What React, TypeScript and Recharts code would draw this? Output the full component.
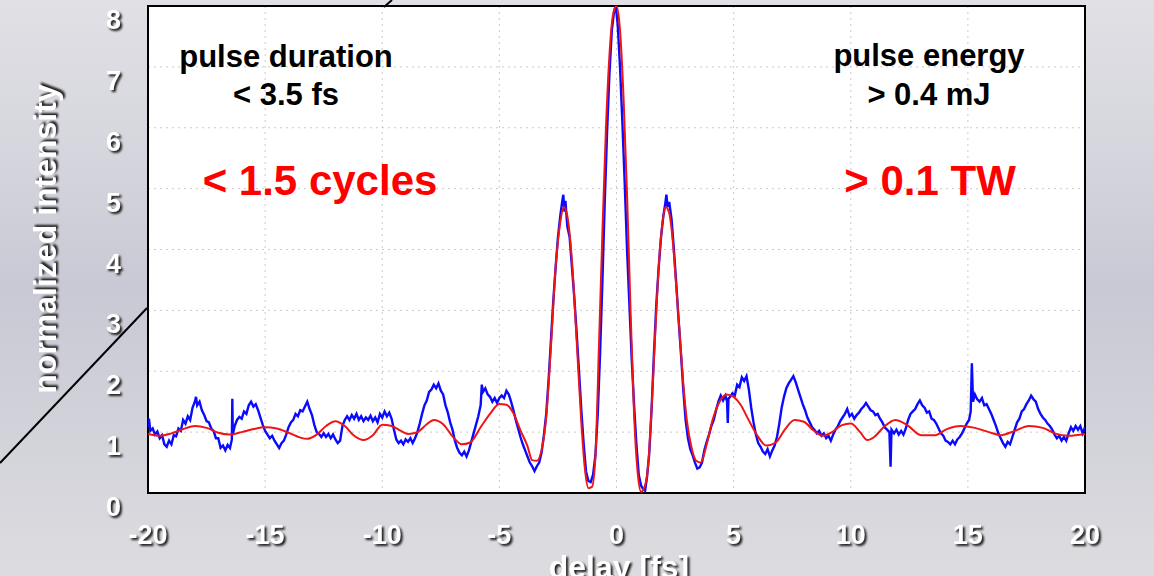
import React from "react";
import {
  LineChart,
  Line,
  XAxis,
  YAxis,
  CartesianGrid,
  ReferenceArea,
} from "recharts";

// delay [fs] vs normalized intensity, measured autocorrelation (blue)
const measured: [number, number][] = [
  [-20.0, 1.08], [-19.96, 1.22], [-19.9, 1.02], [-19.8, 1.06], [-19.7, 0.96], [-19.6, 1.01],
  [-19.5, 0.9], [-19.4, 0.95], [-19.3, 0.8], [-19.2, 0.76], [-19.1, 0.86], [-19.0, 0.8],
  [-18.9, 0.95], [-18.8, 0.93], [-18.7, 1.06], [-18.6, 1.02], [-18.5, 1.2], [-18.4, 1.14],
  [-18.3, 1.26], [-18.2, 1.2], [-18.1, 1.4], [-18.0, 1.5], [-17.95, 1.58], [-17.9, 1.44],
  [-17.8, 1.5], [-17.7, 1.36], [-17.6, 1.28], [-17.5, 1.18], [-17.4, 1.16], [-17.3, 1.06],
  [-17.2, 1.02], [-17.1, 0.9], [-17.0, 0.9], [-16.9, 0.74], [-16.8, 0.78], [-16.7, 0.7],
  [-16.6, 0.79], [-16.5, 0.74], [-16.42, 0.88], [-16.4, 1.55], [-16.38, 0.96], [-16.3, 1.1],
  [-16.2, 1.2], [-16.1, 1.25], [-16.0, 1.22], [-15.9, 1.34], [-15.8, 1.3], [-15.7, 1.44],
  [-15.6, 1.5], [-15.5, 1.42], [-15.4, 1.46], [-15.3, 1.36], [-15.2, 1.24], [-15.1, 1.12],
  [-15.0, 1.02], [-14.9, 0.96], [-14.8, 0.9], [-14.7, 0.94], [-14.6, 0.86], [-14.5, 0.8],
  [-14.4, 0.74], [-14.3, 0.82], [-14.2, 0.86], [-14.1, 0.96], [-14.0, 1.08], [-13.9, 1.16],
  [-13.8, 1.2], [-13.7, 1.3], [-13.6, 1.26], [-13.5, 1.36], [-13.4, 1.34], [-13.3, 1.42],
  [-13.2, 1.5], [-13.1, 1.38], [-13.0, 1.28], [-12.9, 1.12], [-12.8, 1.0], [-12.7, 0.97],
  [-12.6, 0.92], [-12.5, 0.98], [-12.4, 0.92], [-12.3, 0.97], [-12.2, 0.9], [-12.1, 0.96],
  [-12.0, 0.88], [-11.9, 0.82], [-11.8, 0.86], [-11.7, 1.1], [-11.6, 1.2], [-11.5, 1.26],
  [-11.4, 1.2], [-11.3, 1.28], [-11.2, 1.22], [-11.1, 1.3], [-11.0, 1.2], [-10.9, 1.26],
  [-10.8, 1.18], [-10.7, 1.24], [-10.6, 1.2], [-10.5, 1.27], [-10.4, 1.18], [-10.3, 1.24],
  [-10.2, 1.16], [-10.1, 1.3], [-10.0, 1.24], [-9.9, 1.34], [-9.8, 1.26], [-9.7, 1.32],
  [-9.6, 1.22], [-9.5, 1.04], [-9.4, 0.88], [-9.3, 0.82], [-9.2, 0.86], [-9.1, 0.8],
  [-9.0, 0.88], [-8.9, 0.84], [-8.8, 0.9], [-8.7, 0.82], [-8.6, 0.9], [-8.5, 1.0],
  [-8.4, 1.14], [-8.3, 1.3], [-8.2, 1.44], [-8.1, 1.52], [-8.0, 1.66], [-7.9, 1.7],
  [-7.8, 1.78], [-7.7, 1.72], [-7.6, 1.8], [-7.5, 1.68], [-7.4, 1.62], [-7.3, 1.44],
  [-7.2, 1.32], [-7.1, 1.16], [-7.0, 1.04], [-6.9, 0.86], [-6.8, 0.74], [-6.7, 0.66],
  [-6.6, 0.62], [-6.5, 0.68], [-6.4, 0.6], [-6.3, 0.7], [-6.2, 0.84], [-6.1, 0.98],
  [-6.0, 1.12], [-5.9, 1.26], [-5.8, 1.44], [-5.75, 1.78], [-5.7, 1.66], [-5.6, 1.72],
  [-5.5, 1.62], [-5.4, 1.58], [-5.3, 1.5], [-5.2, 1.56], [-5.1, 1.48], [-5.0, 1.56],
  [-4.9, 1.6], [-4.8, 1.56], [-4.7, 1.68], [-4.6, 1.62], [-4.5, 1.5], [-4.4, 1.36],
  [-4.3, 1.2], [-4.2, 1.06], [-4.1, 0.92], [-4.0, 0.8], [-3.9, 0.7], [-3.8, 0.6],
  [-3.7, 0.5], [-3.6, 0.44], [-3.5, 0.36], [-3.4, 0.44], [-3.3, 0.5], [-3.2, 0.66],
  [-3.1, 0.95], [-3.0, 1.3], [-2.9, 1.85], [-2.8, 2.5], [-2.7, 3.15], [-2.6, 3.7],
  [-2.5, 4.2], [-2.4, 4.55], [-2.32, 4.78], [-2.27, 4.9], [-2.22, 4.62], [-2.18, 4.8],
  [-2.1, 4.38], [-2.0, 4.2], [-1.9, 3.7], [-1.8, 3.2], [-1.7, 2.62], [-1.6, 2.0],
  [-1.5, 1.35], [-1.4, 0.8], [-1.3, 0.35], [-1.2, 0.2], [-1.1, 0.18], [-1.0, 0.3],
  [-0.9, 0.62], [-0.8, 1.3], [-0.7, 2.3], [-0.6, 3.5], [-0.5, 4.8], [-0.4, 5.95],
  [-0.3, 6.9], [-0.2, 7.6], [-0.1, 7.92], [-0.03, 8.0], [0.05, 7.7], [0.15, 7.0],
  [0.25, 6.1], [0.35, 5.1], [0.45, 4.0], [0.55, 3.1], [0.65, 2.2], [0.75, 1.45],
  [0.85, 0.8], [0.95, 0.3], [1.05, 0.12], [1.15, 0.06], [1.22, 0.04], [1.3, 0.25],
  [1.4, 0.66], [1.5, 1.4], [1.6, 2.3], [1.7, 3.1], [1.8, 3.7], [1.9, 4.2],
  [2.0, 4.55], [2.08, 4.75], [2.13, 4.9], [2.18, 4.7], [2.25, 4.78], [2.35, 4.5],
  [2.45, 4.0], [2.55, 3.45], [2.65, 2.85], [2.75, 2.3], [2.85, 1.7], [2.95, 1.2],
  [3.05, 0.9], [3.15, 0.72], [3.25, 0.62], [3.35, 0.5], [3.45, 0.4], [3.55, 0.42],
  [3.65, 0.5], [3.75, 0.7], [3.85, 0.84], [3.95, 0.96], [4.05, 1.1], [4.15, 1.2],
  [4.25, 1.36], [4.35, 1.5], [4.45, 1.6], [4.55, 1.52], [4.65, 1.6], [4.72, 1.5],
  [4.75, 1.15], [4.78, 1.55], [4.85, 1.58], [4.95, 1.64], [5.05, 1.6], [5.15, 1.78],
  [5.25, 1.74], [5.35, 1.9], [5.45, 1.84], [5.55, 1.92], [5.65, 1.7], [5.75, 1.4],
  [5.85, 1.16], [5.95, 0.96], [6.05, 0.82], [6.15, 0.76], [6.25, 0.68], [6.35, 0.64],
  [6.45, 0.72], [6.55, 0.6], [6.65, 0.7], [6.75, 0.78], [6.85, 0.92], [6.95, 1.14],
  [7.05, 1.4], [7.15, 1.58], [7.25, 1.72], [7.35, 1.8], [7.45, 1.86], [7.55, 1.92],
  [7.65, 1.82], [7.75, 1.7], [7.85, 1.58], [7.95, 1.46], [8.05, 1.36], [8.15, 1.24],
  [8.25, 1.16], [8.35, 1.08], [8.45, 1.04], [8.55, 0.98], [8.65, 1.02], [8.75, 0.94],
  [8.85, 0.98], [8.95, 0.9], [9.05, 0.94], [9.15, 0.86], [9.25, 0.96], [9.35, 1.04],
  [9.45, 1.1], [9.55, 1.18], [9.65, 1.24], [9.75, 1.3], [9.85, 1.38], [9.95, 1.26],
  [10.05, 1.3], [10.15, 1.22], [10.25, 1.28], [10.35, 1.32], [10.45, 1.38], [10.55, 1.42],
  [10.65, 1.48], [10.75, 1.42], [10.85, 1.36], [10.95, 1.34], [11.05, 1.28], [11.15, 1.3],
  [11.25, 1.22], [11.35, 1.16], [11.45, 1.08], [11.55, 1.04], [11.65, 1.0], [11.7, 0.43],
  [11.74, 1.04], [11.85, 0.98], [11.95, 1.04], [12.05, 0.96], [12.15, 1.02], [12.25, 0.96],
  [12.35, 1.06], [12.45, 1.2], [12.55, 1.3], [12.65, 1.34], [12.75, 1.38], [12.85, 1.46],
  [12.95, 1.52], [13.05, 1.44], [13.15, 1.4], [13.25, 1.32], [13.35, 1.34], [13.45, 1.22],
  [13.55, 1.2], [13.65, 1.14], [13.75, 1.06], [13.85, 0.98], [13.95, 0.94], [14.05, 0.86],
  [14.15, 0.84], [14.25, 0.8], [14.35, 0.86], [14.45, 0.8], [14.55, 0.88], [14.65, 0.92],
  [14.75, 0.98], [14.85, 1.06], [14.95, 1.14], [15.05, 1.2], [15.12, 1.34], [15.17, 2.13],
  [15.22, 1.5], [15.3, 1.62], [15.4, 1.54], [15.5, 1.5], [15.6, 1.56], [15.7, 1.44],
  [15.8, 1.46], [15.9, 1.38], [16.0, 1.3], [16.1, 1.2], [16.2, 1.1], [16.3, 0.98],
  [16.4, 0.9], [16.5, 0.82], [16.6, 0.76], [16.7, 0.84], [16.8, 0.8], [16.9, 0.92],
  [17.0, 1.04], [17.1, 1.16], [17.2, 1.22], [17.3, 1.34], [17.4, 1.38], [17.5, 1.46],
  [17.6, 1.52], [17.7, 1.6], [17.8, 1.54], [17.9, 1.5], [18.0, 1.38], [18.1, 1.3],
  [18.2, 1.24], [18.3, 1.2], [18.4, 1.14], [18.5, 1.1], [18.6, 1.04], [18.7, 0.96],
  [18.8, 0.9], [18.9, 0.94], [19.0, 0.86], [19.1, 0.92], [19.2, 0.86], [19.3, 0.98],
  [19.4, 1.08], [19.5, 1.02], [19.6, 1.1], [19.7, 1.04], [19.8, 1.1], [19.9, 0.98],
  [20.0, 1.08],
];

// fitted autocorrelation (red)
const fit: [number, number][] = [
  [-20, 0.97], [-19.5, 0.94], [-19, 0.98], [-18.5, 1.05], [-18, 1.1], [-17.5, 1.07],
  [-17, 0.99], [-16.5, 0.96], [-16, 1.0], [-15.5, 1.05], [-15, 1.08], [-14.5, 1.06],
  [-14, 0.99], [-13.5, 0.91], [-13.2, 0.89], [-12.8, 0.96], [-12.4, 1.1], [-12, 1.18],
  [-11.6, 1.1], [-11.2, 0.94], [-10.8, 0.87], [-10.4, 0.95], [-10, 1.12], [-9.6, 1.1],
  [-9.2, 1.02], [-8.9, 0.97], [-8.5, 1.0], [-8.1, 1.13], [-7.8, 1.2], [-7.4, 1.13],
  [-7, 0.93], [-6.6, 0.8], [-6.25, 0.83], [-5.8, 1.08], [-5.4, 1.3], [-5, 1.46],
  [-4.7, 1.45], [-4.4, 1.31], [-4.1, 1.03], [-3.8, 0.77], [-3.6, 0.54], [-3.4, 0.53],
  [-3.2, 0.7], [-3.0, 1.25], [-2.8, 2.4], [-2.6, 3.7], [-2.4, 4.45], [-2.25, 4.7],
  [-2.1, 4.55], [-1.9, 3.8], [-1.7, 2.5], [-1.5, 1.15], [-1.35, 0.4], [-1.2, 0.08],
  [-1.05, 0.1], [-0.9, 0.6], [-0.75, 2.4], [-0.6, 4.3], [-0.45, 6.0], [-0.3, 7.2],
  [-0.15, 7.85], [0, 8.0], [0.15, 7.6], [0.3, 6.5], [0.45, 4.9], [0.6, 3.0],
  [0.75, 1.3], [0.9, 0.35], [1.05, 0.02], [1.2, 0.1], [1.35, 0.45], [1.5, 1.4],
  [1.65, 2.6], [1.8, 3.7], [1.95, 4.4], [2.1, 4.7], [2.25, 4.6], [2.4, 4.15],
  [2.55, 3.4], [2.7, 2.6], [2.85, 1.8], [3.0, 1.2], [3.2, 0.75], [3.4, 0.53],
  [3.6, 0.5], [3.85, 0.8], [4.1, 1.2], [4.4, 1.5], [4.7, 1.62], [5.0, 1.58],
  [5.3, 1.45], [5.6, 1.23], [6.0, 0.95], [6.4, 0.78], [6.8, 0.83], [7.2, 1.05],
  [7.6, 1.2], [8.0, 1.17], [8.4, 1.03], [8.8, 0.94], [9.2, 1.0], [9.6, 1.11],
  [10.0, 1.14], [10.4, 1.0], [10.7, 0.87], [11.0, 0.92], [11.4, 1.08], [11.9, 1.2],
  [12.4, 1.12], [13.0, 0.95], [13.6, 0.95], [14.1, 1.05], [14.7, 1.1], [15.3, 1.07],
  [15.9, 1.0], [16.4, 0.95], [17.0, 1.02], [17.6, 1.1], [18.2, 1.07], [18.7, 0.98],
  [19.3, 0.94], [20.0, 0.97],
];

const xTicks = [-20, -15, -10, -5, 0, 5, 10, 15, 20];
const yTicks = [0, 1, 2, 3, 4, 5, 6, 7, 8];

const measuredData = measured.map(([x, y]) => ({ x, y }));
const fitData = fit.map(([x, y]) => ({ x, y }));

const FONT = '"Liberation Sans", Arial, sans-serif';
const SHADOW = "drop-shadow(2px 2px 1px #1a1a1a)";

const XTick = (props: any) => {
  const { x, payload } = props;
  return (
    <text
      x={x}
      y={544}
      textAnchor="middle"
      fill="#fff"
      fontFamily={FONT}
      fontWeight="bold"
      fontSize={27}
      style={{ filter: SHADOW }}
    >
      {payload.value}
    </text>
  );
};

const YTick = (props: any) => {
  const { y, payload } = props;
  return (
    <text
      x={121}
      y={y + 23}
      textAnchor="end"
      fill="#fff"
      fontFamily={FONT}
      fontWeight="bold"
      fontSize={27}
      style={{ filter: SHADOW }}
    >
      {payload.value}
    </text>
  );
};

export default function App() {
  return (
    <div
      style={{
        position: "absolute",
        left: 0,
        top: 0,
        width: 1154,
        height: 576,
        overflow: "hidden",
        background:
          "linear-gradient(180deg, #e0e0e5 0%, #d6d6de 25%, #c9c9d5 50%, #d2d2da 75%, #dcdce0 100%)",
      }}
    >
      <LineChart
        width={1154}
        height={576}
        margin={{ top: 6, right: 69, bottom: 0, left: 0 }}
      >
        <CartesianGrid
          fill="#ffffff"
          fillOpacity={1}
          stroke="#cacaca"
          strokeDasharray="2 4"
          horizontalValues={yTicks}
          verticalValues={xTicks}
        />
        <XAxis
          dataKey="x"
          type="number"
          domain={[-20, 20]}
          ticks={xTicks}
          allowDataOverflow
          height={83}
          axisLine={false}
          tickLine={false}
          tick={<XTick />}
          interval={0}
        />
        <YAxis
          type="number"
          domain={[0, 8]}
          ticks={yTicks}
          allowDataOverflow
          width={148}
          axisLine={false}
          tickLine={false}
          tick={<YTick />}
          interval={0}
        />
        <Line
          data={measuredData}
          dataKey="y"
          type="linear"
          stroke="#0a0aff"
          strokeWidth={2.4}
          strokeLinejoin="miter"
          dot={false}
          isAnimationActive={false}
        />
        <Line
          data={fitData}
          dataKey="y"
          type="monotone"
          stroke="#f01414"
          strokeWidth={2}
          dot={false}
          isAnimationActive={false}
        />
        <ReferenceArea
          x1={-20}
          x2={20}
          y1={0}
          y2={8}
          fill="none"
          stroke="#000"
          strokeWidth={2}
          ifOverflow="visible"
        />
      </LineChart>

      <svg
        width={1154}
        height={576}
        style={{ position: "absolute", left: 0, top: 0, pointerEvents: "none" }}
        fontFamily={FONT}
        fontWeight="bold"
      >
        <line x1={0} y1={463} x2={147} y2={308} stroke="#000" strokeWidth={2} />
        <line x1={384} y1={7} x2={392} y2={0} stroke="#000" strokeWidth={2} />

        <text x={286} y={67} textAnchor="middle" fontSize={31} fill="#000">
          pulse duration
        </text>
        <text x={286} y={105} textAnchor="middle" fontSize={31} fill="#000">
          &lt; 3.5 fs
        </text>
        <text x={320} y={195} textAnchor="middle" fontSize={42} fill="#f00">
          &lt; 1.5 cycles
        </text>
        <text x={929} y={66} textAnchor="middle" fontSize={31} fill="#000">
          pulse energy
        </text>
        <text x={929} y={105} textAnchor="middle" fontSize={31} fill="#000">
          &gt; 0.4 mJ
        </text>
        <text x={930} y={195} textAnchor="middle" fontSize={42} fill="#f00">
          &gt; 0.1 TW
        </text>

        <text
          x={619}
          y={578}
          textAnchor="middle"
          fontSize={32}
          fill="#fff"
          style={{ filter: SHADOW }}
        >
          delay [fs]
        </text>
        <text
          transform="translate(56, 239) rotate(-90)"
          textAnchor="middle"
          fontSize={32}
          fill="#fff"
          style={{ filter: SHADOW }}
        >
          normalized intensity
        </text>
      </svg>
    </div>
  );
}
